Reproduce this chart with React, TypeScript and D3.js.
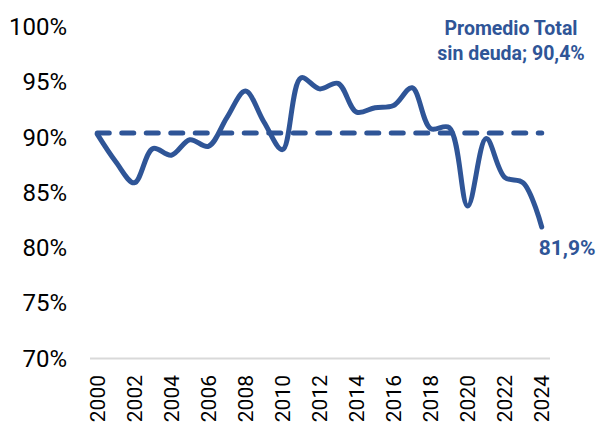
import React from "react";
import * as d3 from "d3";

const years = [
  "2000","2001","2002","2003","2004","2005","2006","2007","2008","2009",
  "2010","2011","2012","2013","2014","2015","2016","2017","2018","2019",
  "2020","2021","2022","2023","2024",
];
const values = [
  90.3, 87.8, 85.9, 89.0, 88.4, 89.8, 89.2, 91.8, 94.2, 91.4,
  88.9, 95.4, 94.4, 94.9, 92.3, 92.7, 92.9, 94.5, 90.8, 90.9,
  83.8, 89.9, 86.4, 85.9, 81.9,
];
const averageValue = 90.4;
const yTicks = [70, 75, 80, 85, 90, 95, 100];
const xTickLabels = years.filter((_, i) => i % 2 === 0);
const avgLabelLines = ["Promedio Total", "sin deuda; 90,4%"];
const lastLabel = "81,9%";

const BLUE = "#2F5597";

export default function App() {
  const W = 602;
  const H = 429;
  const x = d3.scaleBand<string>().domain(years).range([88, 551]).paddingInner(0).paddingOuter(0);
  const y = d3.scaleLinear().domain([70, 100]).range([358.5, 27]);
  const cx = (yr: string) => (x(yr) as number) + x.bandwidth() / 2;

  const line = d3
    .line<number>()
    .x((_, i) => cx(years[i]))
    .y((d) => y(d))
    .curve(d3.curveCatmullRom.alpha(0.5));

  const xr = x.range();
  const lastIdx = years.length - 1;

  return (
    <svg
      width={W}
      height={H}
      style={{ position: "absolute", left: 0, top: 0, background: "#fff" }}
      fontFamily="Roboto, 'Noto Sans', sans-serif"
    >
      {yTicks.map((t) => (
        <text
          key={t}
          x={67}
          y={y(t)}
          textAnchor="end"
          dominantBaseline="central"
          fontSize={24}
          fill="#000"
        >
          {t}%
        </text>
      ))}
      <line x1={xr[0] + 2} x2={xr[1] - 1} y1={y(70)} y2={y(70)} stroke="#D9D9D9" strokeWidth={2} />
      {xTickLabels.map((yr) => (
        <text
          key={yr}
          transform={`translate(${cx(yr) + 7.5},${375}) rotate(-90)`}
          textAnchor="end"
          fontSize={21}
          fill="#000"
        >
          {yr}
        </text>
      ))}
      <line
        x1={cx(years[0])}
        x2={cx(years[lastIdx])}
        y1={y(averageValue)}
        y2={y(averageValue)}
        stroke={BLUE}
        strokeWidth={5}
        strokeDasharray="12 12.5"
        strokeLinecap="round"
      />
      <path
        d={line(values) || ""}
        fill="none"
        stroke={BLUE}
        strokeWidth={5}
        strokeLinecap="round"
        strokeLinejoin="round"
      />
      {avgLabelLines.map((s, i) => (
        <text
          key={s}
          x={511}
          y={35 + i * 25}
          textAnchor="middle"
          fontSize={19.5}
          fontWeight="bold"
          fill={BLUE}
        >
          {s}
        </text>
      ))}
      <text
        x={cx(years[lastIdx]) - 3}
        y={y(values[lastIdx]) + 28}
        textAnchor="start"
        fontSize={21}
        fontWeight="bold"
        fill={BLUE}
      >
        {lastLabel}
      </text>
    </svg>
  );
}
